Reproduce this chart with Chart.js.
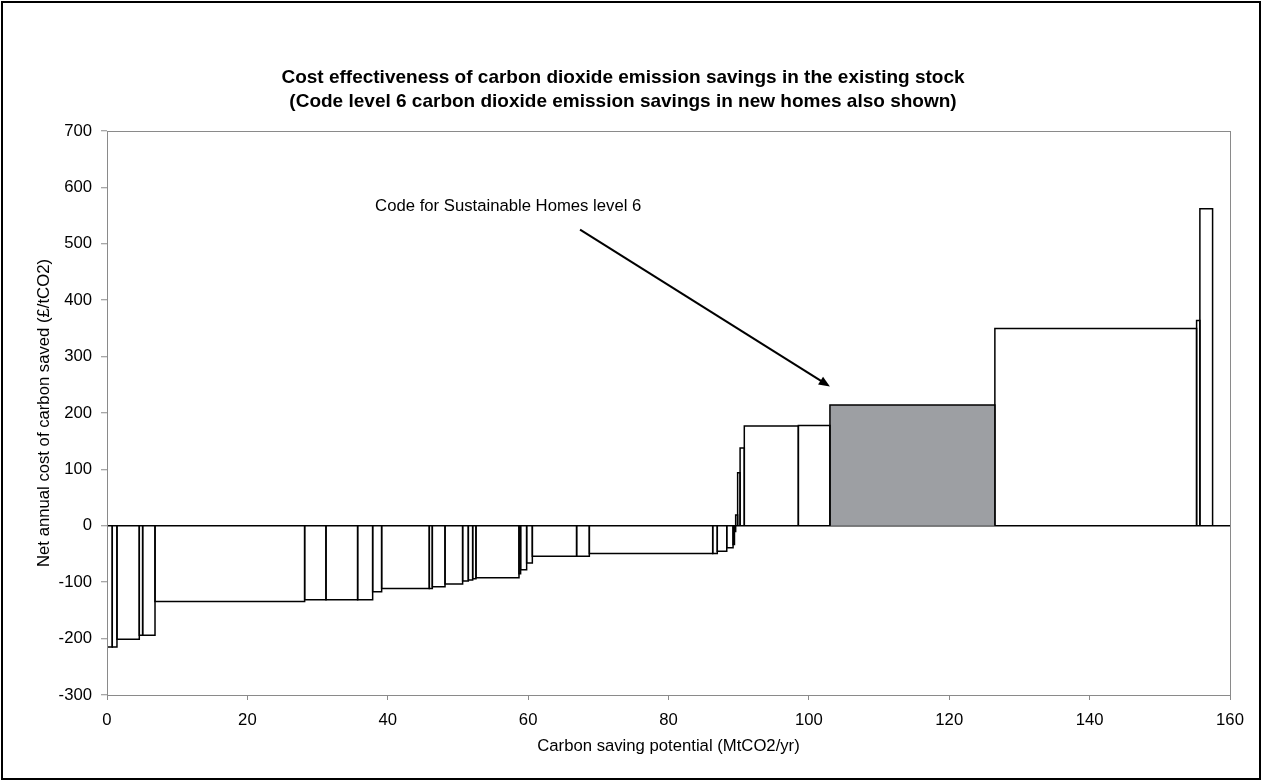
<!DOCTYPE html>
<html>
<head>
<meta charset="utf-8">
<title>Cost effectiveness of carbon dioxide emission savings</title>
<script src="https://cdn.jsdelivr.net/npm/chart.js@4.4.1/dist/chart.umd.min.js"></script>
<style>
    html, body { margin: 0; padding: 0; background: #ffffff; }
    #cost-chart { display: block; }
</style>
</head>
<body>
<canvas id="cost-chart" width="1262" height="781"></canvas>
<script>
var chart_title = [
    'Cost effectiveness of carbon dioxide emission savings in the existing stock',
    '(Code level 6 carbon dioxide emission savings in new homes also shown)'
];
var x_axis_title = 'Carbon saving potential (MtCO2/yr)';
var y_axis_title = 'Net annual cost of carbon saved (£/tCO2)';
var x_tick_values = [0, 20, 40, 60, 80, 100, 120, 140, 160];
var y_tick_values = [-300, -200, -100, 0, 100, 200, 300, 400, 500, 600, 700];

// measures in cost order: each block starts where the previous one ends
var block_ends = [
    0.75, 1.42, 4.6, 5.08, 6.84, 28.16, 31.2, 35.71, 37.85, 39.13,
    45.92, 46.35, 48.16, 50.67, 51.48, 52.1, 52.57, 58.7, 58.93, 59.79,
    60.6, 66.91, 68.72, 86.3, 86.95, 88.3, 89.2, 89.4, 89.57, 89.85,
    90.2, 90.8, 98.5, 103.0, 126.5, 155.24, 155.71, 157.52
];
var block_costs = [
    -215, -215, -201, -194, -194, -134, -131, -131, -131, -117,
    -111, -111, -108, -103, -98, -96, -94, -92, -85, -78,
    -66, -54, -54, -49, -49, -45, -39, -33, -10, 19,
    94, 138, 177, 178, 214, 350, 364, 562
];
var code_level6_block = 34;

var note_text = 'Code for Sustainable Homes level 6';

var font_family = "'Liberation Sans', Arial, sans-serif";
var text_size = 16.7;
var CostChart;

function BuildBlockDatasets() {
    var datasets = [];
    var start = 0;

    for (var i = 0; i < block_ends.length; i++) {
        var end = block_ends[i];
        var cost = block_costs[i];
        var shaded = (i === code_level6_block);

        datasets.push({
            label: 'Measure ' + (i + 1),
            data: [
                { x: start, y: 0 },
                { x: start, y: cost },
                { x: end, y: cost },
                { x: end, y: 0 }
            ],
            showLine: true,
            pointRadius: 0,
            borderColor: '#000000',
            borderWidth: 1.5,
            borderJoinStyle: 'miter',
            tension: 0,
            fill: shaded ? 'origin' : false,
            backgroundColor: shaded ? '#9d9fa3' : 'rgba(0, 0, 0, 0)'
        });

        start = end;
    }
    return datasets;
}

// white page, black frame round it, grey box round the plot
var framePlugin = {
    id: 'frame',
    beforeDraw: function (chart) {
        var ctx = chart.ctx;
        ctx.save();
        ctx.fillStyle = '#ffffff';
        ctx.fillRect(0, 0, chart.width, chart.height);
        ctx.strokeStyle = '#000000';
        ctx.lineWidth = 2;
        ctx.strokeRect(2, 2, chart.width - 4, chart.height - 4);
        ctx.restore();
    },
    afterDraw: function (chart) {
        var ctx = chart.ctx;
        var area = chart.chartArea;
        ctx.save();
        ctx.strokeStyle = '#8a8a8a';
        ctx.lineWidth = 1;
        ctx.strokeRect(Math.round(area.left) + 0.5, Math.round(area.top) + 0.5,
            Math.round(area.right - area.left), Math.round(area.bottom - area.top));
        ctx.restore();
    }
};

// label and arrow pointing at the Code level 6 block
var notePlugin = {
    id: 'note',
    afterDatasetsDraw: function (chart) {
        var ctx = chart.ctx;
        var xs = chart.scales.x;
        var ys = chart.scales.y;

        ctx.save();
        ctx.fillStyle = '#000000';
        ctx.font = text_size + 'px ' + font_family;
        ctx.textBaseline = 'middle';
        ctx.fillText(note_text, xs.getPixelForValue(38.2), ys.getPixelForValue(567));

        var x0 = xs.getPixelForValue(67.4), y0 = ys.getPixelForValue(525);
        var x1 = xs.getPixelForValue(103.0), y1 = ys.getPixelForValue(247);
        var angle = Math.atan2(y1 - y0, x1 - x0);
        var head = 12;

        ctx.strokeStyle = '#000000';
        ctx.lineWidth = 2;
        ctx.beginPath();
        ctx.moveTo(x0, y0);
        ctx.lineTo(x1 - Math.cos(angle) * head * 0.8, y1 - Math.sin(angle) * head * 0.8);
        ctx.stroke();

        ctx.beginPath();
        ctx.moveTo(x1, y1);
        ctx.lineTo(x1 - head * Math.cos(angle - 0.4), y1 - head * Math.sin(angle - 0.4));
        ctx.lineTo(x1 - head * Math.cos(angle + 0.4), y1 - head * Math.sin(angle + 0.4));
        ctx.closePath();
        ctx.fill();
        ctx.restore();
    }
};

function LoadCostChart() {
    var ctx = document.getElementById('cost-chart');
    if (CostChart) {
        CostChart.destroy();
    }
    CostChart = new Chart(ctx, {
        type: 'scatter',
        data: {
            datasets: BuildBlockDatasets()
        },
        plugins: [framePlugin, notePlugin],
        options: {
            responsive: false,
            animation: false,
            devicePixelRatio: 1,
            layout: {
                padding: { left: 16, right: 32, top: 0, bottom: 0 }
            },
            plugins: {
                legend: false,
                tooltip: { enabled: false },
                title: {
                    display: true,
                    text: chart_title,
                    color: '#000000',
                    font: { family: font_family, size: 19, weight: 'bold', lineHeight: 1.263 },
                    padding: { top: 66, bottom: 17 }
                }
            },
            scales: {
                x: {
                    type: 'linear',
                    min: 0,
                    max: 160,
                    afterBuildTicks: function (scale) {
                        scale.ticks = x_tick_values.map(function (v) { return { value: v }; });
                    },
                    afterFit: function (scale) {
                        scale.height = 86;
                    },
                    border: { display: false },
                    grid: {
                        drawOnChartArea: false,
                        color: '#8a8a8a',
                        tickLength: 5
                    },
                    ticks: {
                        color: '#000000',
                        font: { family: font_family, size: text_size },
                        padding: 10,
                        maxRotation: 0
                    },
                    title: {
                        display: true,
                        text: x_axis_title,
                        color: '#000000',
                        font: { family: font_family, size: text_size, lineHeight: 1.2 },
                        padding: { top: 0, bottom: 25 }
                    }
                },
                y: {
                    type: 'linear',
                    min: -300,
                    max: 700,
                    afterBuildTicks: function (scale) {
                        scale.ticks = y_tick_values.map(function (v) { return { value: v }; });
                    },
                    afterFit: function (scale) {
                        scale.width = 91;
                    },
                    border: { display: false },
                    grid: {
                        color: function (c) {
                            return (c.tick && c.tick.value === 0) ? '#000000' : 'rgba(0, 0, 0, 0)';
                        },
                        lineWidth: 1.5,
                        tickColor: '#8a8a8a',
                        tickWidth: 1,
                        tickLength: 6
                    },
                    ticks: {
                        color: '#000000',
                        font: { family: font_family, size: text_size },
                        padding: 9
                    },
                    title: {
                        display: true,
                        text: y_axis_title,
                        color: '#000000',
                        font: { family: font_family, size: text_size, lineHeight: 1.2 },
                        padding: { top: 18, bottom: 0 }
                    }
                }
            }
        }
    });
}

LoadCostChart();
</script>
</body>
</html>
